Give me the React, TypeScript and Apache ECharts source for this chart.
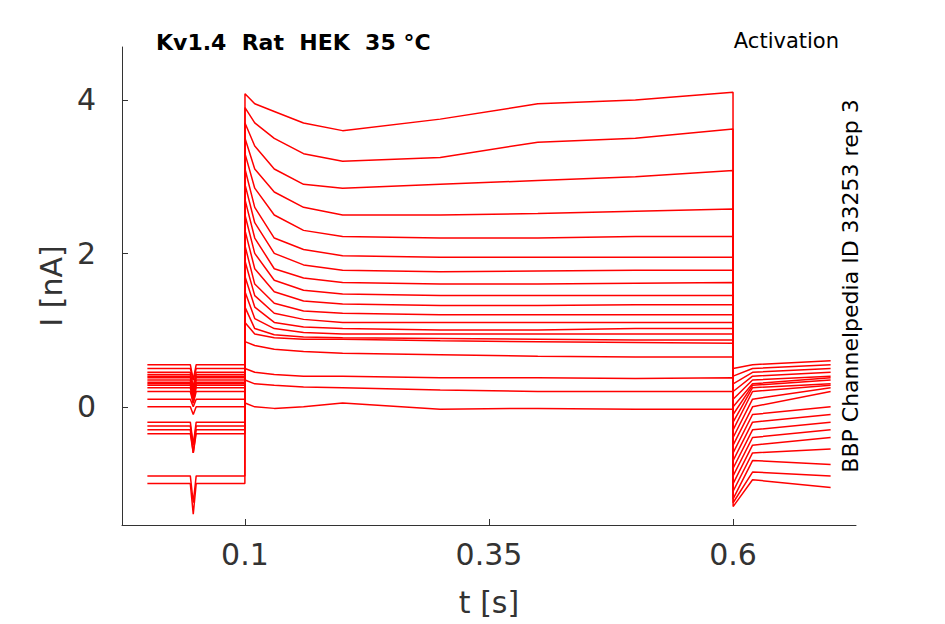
import React, { useEffect, useRef } from "react";
import * as echarts from "echarts";

const stepTimes = [0.1, 0.11, 0.13, 0.16, 0.2, 0.3, 0.4, 0.5, 0.6];
const preLevels = [0.55, 0.5, 0.45, 0.42, 0.4, 0.38, 0.35, 0.32, 0.3, 0.28, 0.25, 0.2, 0.1, 0.0, -0.2, -0.25, -0.3, -0.35, -0.9, -1.0];
const stepValues = [
  [4.08, 3.95, 3.85, 3.7, 3.6, 3.75, 3.95, 4.0, 4.1],
  [3.9, 3.7, 3.5, 3.3, 3.2, 3.25, 3.45, 3.5, 3.62],
  [3.7, 3.4, 3.1, 2.9, 2.85, 2.9, 2.95, 3.0, 3.08],
  [3.5, 3.1, 2.8, 2.6, 2.5, 2.5, 2.52, 2.55, 2.58],
  [3.3, 2.85, 2.5, 2.3, 2.22, 2.2, 2.2, 2.22, 2.22],
  [3.1, 2.6, 2.2, 2.05, 1.97, 1.95, 1.95, 1.95, 1.95],
  [2.9, 2.4, 2.0, 1.85, 1.78, 1.76, 1.77, 1.78, 1.78],
  [2.7, 2.2, 1.8, 1.68, 1.62, 1.6, 1.6, 1.61, 1.62],
  [2.5, 2.0, 1.65, 1.52, 1.47, 1.45, 1.45, 1.45, 1.45],
  [2.3, 1.8, 1.5, 1.38, 1.34, 1.32, 1.32, 1.33, 1.33],
  [2.1, 1.6, 1.35, 1.25, 1.22, 1.2, 1.2, 1.2, 1.2],
  [1.9, 1.45, 1.22, 1.14, 1.1, 1.1, 1.1, 1.1, 1.1],
  [1.7, 1.3, 1.1, 1.04, 1.02, 1.0, 1.0, 1.02, 1.02],
  [1.5, 1.15, 1.02, 0.97, 0.95, 0.95, 0.95, 0.95, 0.95],
  [1.3, 1.02, 0.94, 0.91, 0.9, 0.89, 0.88, 0.87, 0.87],
  [1.1, 0.95, 0.9, 0.88, 0.88, 0.86, 0.85, 0.84, 0.83],
  [0.85, 0.8, 0.75, 0.72, 0.7, 0.68, 0.66, 0.65, 0.65],
  [0.5, 0.45, 0.42, 0.4, 0.4, 0.38, 0.38, 0.37, 0.38],
  [0.35, 0.3, 0.28, 0.26, 0.25, 0.22, 0.2, 0.2, 0.2],
  [0.05, 0.0, -0.02, 0.0, 0.05, -0.03, -0.02, -0.03, -0.03],
];
const postStart = [0.5, 0.4, 0.3, 0.2, 0.1, 0, -0.1, -0.2, -0.3, -0.4, -0.5, -0.6, -0.7, -0.8, -0.9, -1.0, -1.1, -1.2, -1.25, -1.3];
const postMid = [0.55, 0.5, 0.45, 0.4, 0.35, 0.3, 0.28, 0.25, 0.2, 0.1, 0, -0.1, -0.2, -0.3, -0.4, -0.5, -0.6, -0.7, -0.85, -0.95];
const postEnd = [0.6, 0.55, 0.5, 0.45, 0.4, 0.38, 0.35, 0.3, 0.28, 0.25, 0.2, 0.0, -0.1, -0.2, -0.3, -0.4, -0.55, -0.75, -0.9, -1.05];
const dipDepth = [0.2, 0.15, 0.2, 0.15, 0.2, 0.15, 0.2, 0.25, 0.2, 0.15, 0.2, 0.15, 0.1, 0.1, 0.3, 0.25, 0.3, 0.25, 0.35, 0.4];
const xTicks = [0.1, 0.35, 0.6];
const yTicks = [0, 2, 4];

export default function App() {
  const ref = useRef<HTMLDivElement>(null);
  useEffect(() => {
    const chart = echarts.init(ref.current!, undefined, { renderer: "svg" });
    const series = preLevels.map((pre, i) => {
      const d: number[][] = [
        [0, pre], [0.044, pre], [0.047, pre - dipDepth[i]], [0.05, pre], [0.0999, pre],
      ];
      stepTimes.forEach((t, k) => d.push([t, stepValues[i][k]]));
      d.push([0.6001, postStart[i]], [0.62, postMid[i]], [0.7, postEnd[i]]);
      return {
        type: "line", data: d, showSymbol: false, symbol: "none",
        lineStyle: { color: "#ff0000", width: 1.5 },
      };
    });
    chart.setOption({
      animation: false,
      grid: { left: 122, right: 89, top: 47, bottom: 99 },
      title: [
        { text: "Kv1.4  Rat  HEK  35 °C", left: 151, top: 26, textStyle: { fontSize: 22, fontWeight: "bold", color: "#000", fontFamily: "DejaVu Sans" } },
        { text: "Activation", right: 101, top: 25, textStyle: { fontSize: 21, fontWeight: "normal", color: "#000", fontFamily: "DejaVu Sans" } },
      ],
      graphic: [{
        type: "text", x: 850, y: 286, rotation: Math.PI / 2, style: {
          text: "BBP Channelpedia ID 33253 rep 3", fontSize: 22, fill: "#000",
          fontFamily: "DejaVu Sans", align: "center", verticalAlign: "middle",
        },
      }],
      xAxis: {
        type: "value", min: -0.026, max: 0.726, name: "t [s]", nameLocation: "middle", nameGap: 62,
        nameTextStyle: { fontSize: 30, color: "#333", fontFamily: "DejaVu Sans" },
        splitLine: { show: false },
        axisLine: { onZero: false, lineStyle: { color: "#333" } },
        axisTick: { inside: true, length: 6, customValues: xTicks, lineStyle: { color: "#333" } },
        axisLabel: { customValues: xTicks, fontSize: 30, color: "#333", margin: 14, fontFamily: "DejaVu Sans" },
      },
      yAxis: {
        type: "value", min: -1.54, max: 4.69, name: "I [nA]", nameLocation: "middle", nameGap: 56,
        nameTextStyle: { fontSize: 30, color: "#333", fontFamily: "DejaVu Sans" },
        splitLine: { show: false },
        axisLine: { show: true, onZero: false, lineStyle: { color: "#333" } },
        axisTick: { show: true, inside: true, length: 6, customValues: yTicks, lineStyle: { color: "#333" } },
        axisLabel: { customValues: yTicks, fontSize: 30, color: "#333", margin: 26, fontFamily: "DejaVu Sans" },
      },
      series,
    });
    return () => chart.dispose();
  }, []);
  return <div ref={ref} style={{ width: 945, height: 624, position: "absolute", left: 0, top: 0, background: "#fff" }} />;
}
